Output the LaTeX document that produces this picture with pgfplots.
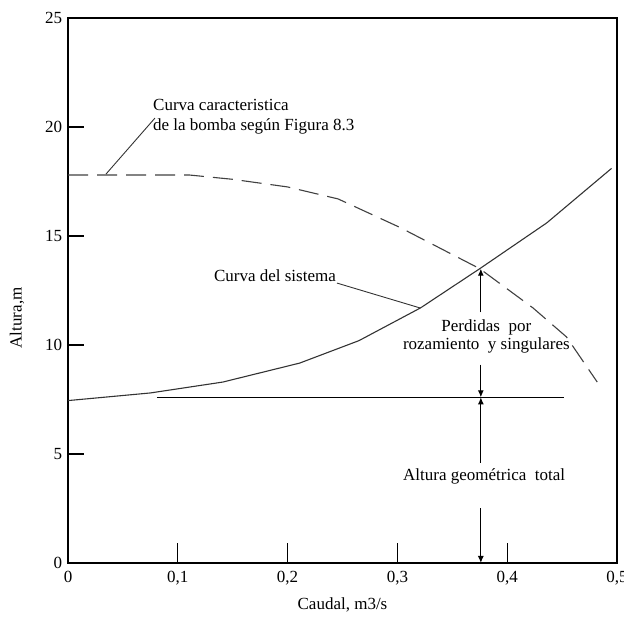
\documentclass[border=0pt]{standalone}
\usepackage{fontspec}
\setmainfont{Liberation Serif}
\usepackage{pgfplots}
\pgfplotsset{compat=1.18}
\usetikzlibrary{arrows.meta}
\begin{document}
\fontsize{17}{21}\selectfont
\begin{tikzpicture}
\path[use as bounding box] (-68pt,-60pt) rectangle (556pt,563pt);
\begin{axis}[
  at={(0pt,0pt)}, anchor=south west, scale only axis,
  width=549pt, height=545pt,
  xmin=0, xmax=0.5, ymin=0, ymax=25,
  axis line style={line width=1.4pt},
  xtick={0,0.1,0.2,0.3,0.4,0.5},
  xticklabels={0,{0,1},{0,2},{0,3},{0,4},{0,5}},
  ytick={0,5,10,15,20,25},
  yticklabels={0,5,10,15,20,25},
  tick align=inside, tick pos=left,
  major tick length=16pt,
  xtick style={/pgfplots/major tick length=20pt},
  every tick/.style={line width=1.2pt, black},
  xticklabel style={yshift=-2pt},
  clip=false,
]
% pump characteristic curve
\addplot[black!75, line width=1.1pt, dash pattern=on 20pt off 9pt] coordinates {
 (0,17.8) (0.11,17.8) (0.15,17.6) (0.2,17.25) (0.246,16.7) (0.302,15.4)
 (0.375,13.5) (0.4235,11.7) (0.454,10.37) (0.482,8.3)};
% system curve
\addplot[black!80, line width=1.1pt] coordinates {
 (0,7.45) (0.075,7.8) (0.141,8.3) (0.211,9.17) (0.265,10.2) (0.321,11.7)
 (0.375,13.5) (0.436,15.6) (0.495,18.1)};
% static head line
\addplot[black, line width=1.1pt] coordinates {(0.081,7.6) (0.452,7.6)};
% arrows
\addplot[black, line width=1.1pt, -{Latex[length=7pt,width=6pt]}] coordinates {(0.376,11.5) (0.376,13.5)};
\addplot[black, line width=1.1pt, -{Latex[length=7pt,width=6pt]}] coordinates {(0.376,9.1) (0.376,7.6)};
\addplot[black, line width=1.1pt, -{Latex[length=7pt,width=6pt]}] coordinates {(0.376,4.6) (0.376,7.6)};
\addplot[black, line width=1.1pt, -{Latex[length=7pt,width=6pt]}] coordinates {(0.376,2.5) (0.376,0)};
% leader lines
\addplot[black!80, line width=0.9pt] coordinates {(0.0792,20.41) (0.0346,17.84)};
\addplot[black!80, line width=0.9pt] coordinates {(0.245,12.84) (0.3206,11.7)};
% texts
\node[anchor=west, align=left, inner sep=0pt, font=\fontsize{17}{19.5}\selectfont]
  at (axis cs:0.0774,20.48) {Curva caracteristica\\de la bomba según Figura 8.3};
\node[inner sep=0pt] at (axis cs:0.1885,13.2) {Curva del sistema};
\node[align=center, inner sep=0pt, font=\fontsize{17}{18}\selectfont]
  at (axis cs:0.381,10.39) {Perdidas\ \ por\\rozamiento\ \ y singulares};
\node[inner sep=0pt] at (axis cs:0.379,3.99) {Altura geométrica\ \ total};
\node[inner sep=0pt] at (axis cs:0.25,0) [yshift=-42pt] {Caudal, m3/s};
\node[inner sep=0pt, rotate=90, yshift=51pt] at (axis cs:0,11.24) {Altura,m};
\end{axis}
\end{tikzpicture}
\end{document}
